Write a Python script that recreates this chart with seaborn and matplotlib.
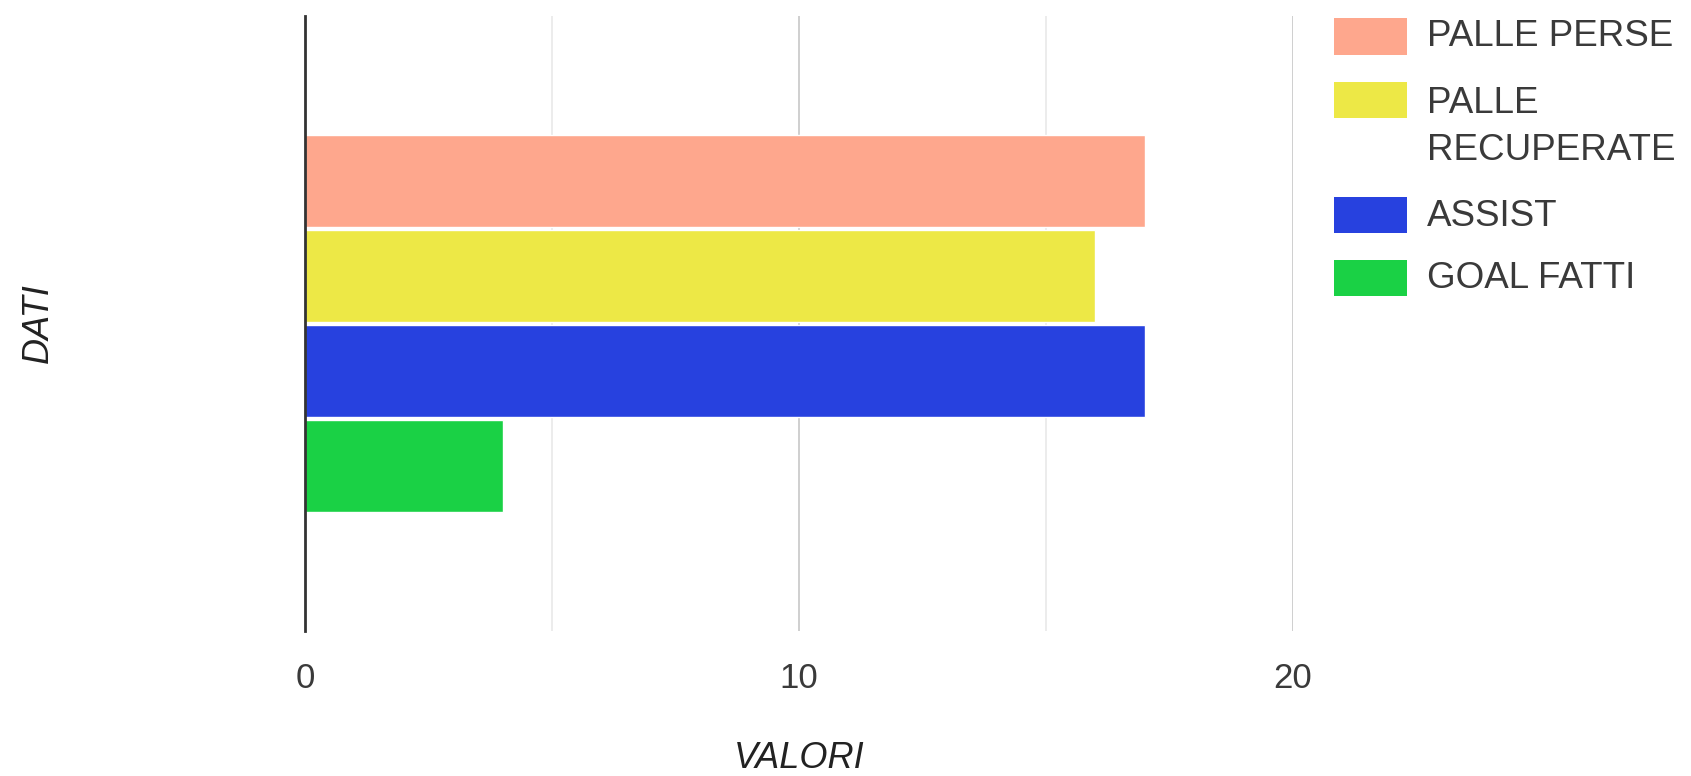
import matplotlib
matplotlib.use("Agg")
import matplotlib.pyplot as plt
import seaborn as sns
import pandas as pd
from matplotlib.patches import Rectangle

categories = [""]
series = ["PALLE PERSE", "PALLE RECUPERATE", "ASSIST", "GOAL FATTI"]
legend_labels = ["PALLE PERSE", "PALLE\nRECUPERATE", "ASSIST", "GOAL FATTI"]
values = [17, 16, 17, 4]
colors = ["#FEA78D", "#EDE846", "#2741DF", "#1AD145"]
x_ticks = [0, 10, 20]
x_minor = [5, 15]

df = pd.DataFrame({"cat": categories * len(series), "series": series, "value": values})

sns.set_theme(style="white")
plt.rcParams["font.family"] = ["Liberation Sans", "DejaVu Sans"]

fig = plt.figure(figsize=(16.91, 7.76), dpi=100)
ax = fig.add_axes([305 / 1691, 1 - 631 / 776, (1293 - 305) / 1691, (631 - 16) / 776])

sns.barplot(data=df, x="value", y="cat", hue="series", hue_order=series,
            palette=colors, orient="h", width=0.62, gap=0.035, legend=False,
            saturation=1, ax=ax, zorder=3)

ax.set_xlim(0, 20)
ax.set_ylim(0.5, -0.5)
ax.set_xticks(x_ticks)
ax.set_xticks(x_minor, minor=True)
ax.set_xticklabels([str(t) for t in x_ticks])
ax.set_yticks([])
ax.grid(axis="x", which="major", color="#CCCCCC", linewidth=1.3, zorder=0)
ax.grid(axis="x", which="minor", color="#EBEBEB", linewidth=1.3, zorder=0)
ax.tick_params(axis="x", which="both", length=0, pad=22, labelsize=25, labelcolor="#3A3A3A")
for s in ["top", "right", "bottom"]:
    ax.spines[s].set_visible(False)
ax.spines["left"].set_color("#333333")
ax.spines["left"].set_linewidth(2)
ax.spines["left"].set_zorder(5)

ax.set_xlabel("")
ax.set_ylabel("")
fig.text(799 / 1691, 1 - 758 / 776, "VALORI", fontsize=26, style="italic",
         color="#222222", ha="center", va="center")
fig.text(38 / 1691, 1 - 323 / 776, "DATI", fontsize=26, style="italic",
         color="#222222", ha="center", va="center", rotation=90)

# legend
patch_centers = [36.5, 100, 215, 278]
text_centers = [36, 127, 216, 278]
for lab, col, pc, tc in zip(legend_labels, colors, patch_centers, text_centers):
    fig.patches.append(Rectangle((1334 / 1691, 1 - (pc + 18) / 776), 73 / 1691, 36 / 776,
                                 transform=fig.transFigure, facecolor=col, edgecolor="none"))
    fig.text(1427 / 1691, 1 - tc / 776, lab, fontsize=26.5, color="#3A3A3A",
             ha="left", va="center", linespacing=1.45)

fig.savefig("out.png", dpi=100)
